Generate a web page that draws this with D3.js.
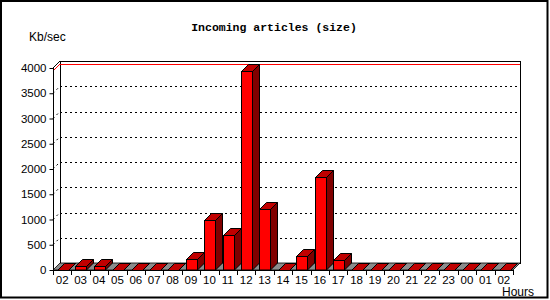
<!DOCTYPE html>
<html>
<head>
<meta charset="utf-8">
<script src="https://cdn.jsdelivr.net/npm/d3@7"></script>
<style>
  body { margin: 0; background: #fff; }
  svg { display: block; }
  .axis text { font: 11.5px "Liberation Sans", Arial, sans-serif; fill: #000; }
</style>
</head>
<body>
<div id="chart"></div>
<script>
// hours on the x axis
var hours = ["02", "03", "04", "05", "06", "07", "08", "09", "10", "11", "12", "13",
  "14", "15", "16", "17", "18", "19", "20", "21", "22", "23", "00", "01", "02b"];
var hourLabels = hours.map(function (h) { return h.slice(0, 2); });
// Kb/sec per hour
var sizes = [0, 70, 70, 0, 0, 0, 0, 215, 985, 695, 3940, 1200,
  0, 280, 1840, 200, 0, 0, 0, 0, 0, 0, 0, 0, 0];
var yTicks = [0, 500, 1000, 1500, 2000, 2500, 3000, 3500, 4000];

var width = 550, height = 300,
  plotLeft = 53, plotRight = 513, plotBottom = 270, plotTop = 68,
  depth = 7,
  front = '#ff0000', topFace = '#c00000', side = '#800000', floor = '#8c8c8c';

var svg = d3.select('#chart').append('svg')
  .attr('width', width)
  .attr('height', height);

var x = d3.scaleBand().domain(hours).range([plotLeft, plotRight]);
var y = d3.scaleLinear().domain([0, 4000]).range([plotBottom, plotTop]);
var bw = x.bandwidth();

// outer frame
svg.append('rect')
  .attr('x', 1).attr('y', 1)
  .attr('width', 546.5).attr('height', 296.5)
  .attr('fill', '#fff').attr('stroke', '#000').attr('stroke-width', 2);

// back wall
svg.append('rect')
  .attr('x', plotLeft + depth + 0.5).attr('y', plotTop - depth + 0.5)
  .attr('width', plotRight - plotLeft).attr('height', plotBottom - plotTop)
  .attr('fill', '#fff').attr('stroke', '#000');

// grid lines on back wall and side
yTicks.filter(function (d) { return d > 0 && d < 4000; }).forEach(function (d) {
  svg.append('line')
    .attr('x1', plotLeft + depth).attr('x2', plotRight + depth)
    .attr('y1', Math.round(y(d) - depth) + 0.5).attr('y2', Math.round(y(d) - depth) + 0.5)
    .attr('stroke', '#000').attr('stroke-dasharray', '2,3');
  svg.append('line')
    .attr('x1', plotLeft).attr('x2', plotLeft + depth)
    .attr('y1', y(d)).attr('y2', y(d) - depth)
    .attr('stroke', '#000').attr('stroke-dasharray', '2,3');
});

// peak line
var peak = d3.max(sizes);
svg.append('line')
  .attr('x1', plotLeft + depth).attr('x2', plotRight + depth)
  .attr('y1', Math.round(y(peak) - depth) + 0.5).attr('y2', Math.round(y(peak) - depth) + 0.5)
  .attr('stroke', '#ff0000');
svg.append('line')
  .attr('x1', plotLeft).attr('x2', plotLeft + depth)
  .attr('y1', y(peak)).attr('y2', y(peak) - depth)
  .attr('stroke', '#ff0000');

// floor
svg.append('polygon')
  .attr('points', [[plotLeft, plotBottom], [plotRight, plotBottom], [plotRight + depth, plotBottom - depth], [plotLeft + depth, plotBottom - depth]].join(' '))
  .attr('fill', floor).attr('stroke', '#000').attr('stroke-width', 0.8);

// side wall top edge
svg.append('line')
  .attr('x1', plotLeft).attr('y1', plotTop).attr('x2', plotLeft + depth).attr('y2', plotTop - depth)
  .attr('stroke', '#000');

// bars
var bars = svg.selectAll('.bar')
  .data(sizes)
  .enter().append('g')
  .attr('class', 'bar');

bars.each(function (d, i) {
  var g = d3.select(this);
  var x0 = Math.round(x(hours[i]) + 4) + 0.5, x1 = x0 + 11, yv = Math.round(y(d)) + 0.5;
  g.append('polygon')
    .attr('points', [[x1, plotBottom], [x1 + depth, plotBottom - depth], [x1 + depth, yv - depth], [x1, yv]].join(' '))
    .attr('fill', side).attr('stroke', '#000');
  g.append('polygon')
    .attr('points', [[x0, yv], [x1, yv], [x1 + depth, yv - depth], [x0 + depth, yv - depth]].join(' '))
    .attr('fill', topFace).attr('stroke', '#000');
  g.append('rect')
    .attr('x', x0).attr('y', yv)
    .attr('width', x1 - x0).attr('height', plotBottom - yv)
    .attr('fill', front).attr('stroke', '#000');
});

// y axis
svg.append('g')
  .attr('class', 'axis')
  .attr('transform', 'translate(' + (plotLeft + 0.5) + ',0)')
  .call(d3.axisLeft(y).tickValues(yTicks).tickFormat(d3.format('d')).tickSize(4).tickPadding(3).tickSizeOuter(0))
  .call(function (g) { g.select('.domain').attr('d', 'M0,' + plotTop + 'V' + plotBottom); });

// x axis
svg.append('g')
  .attr('class', 'axis')
  .attr('transform', 'translate(0,' + (plotBottom + 0.5) + ')')
  .call(d3.axisBottom(x).tickSize(0).tickPadding(5).tickFormat(function (d, i) { return hourLabels[i]; }))
  .call(function (g) { g.select('.domain').attr('d', 'M' + plotLeft + ',0H' + plotRight); });

// x boundary ticks
svg.append('g')
  .selectAll('line')
  .data(d3.range(hours.length + 1))
  .enter().append('line')
  .attr('x1', function (i) { return Math.round(plotLeft + i * bw) + 0.5; })
  .attr('x2', function (i) { return Math.round(plotLeft + i * bw) + 0.5; })
  .attr('y1', plotBottom).attr('y2', plotBottom + 5)
  .attr('stroke', '#000');

// titles
svg.append('text')
  .attr('x', 274).attr('y', 31)
  .attr('text-anchor', 'middle')
  .style('font', 'bold 11.5px "Liberation Mono", "Courier New", monospace')
  .text('Incoming articles (size)');

svg.append('text')
  .attr('x', 29).attr('y', 41)
  .style('font', '12px "Liberation Sans", Arial, sans-serif')
  .text('Kb/sec');

svg.append('text')
  .attr('x', 534).attr('y', 296)
  .attr('text-anchor', 'end')
  .style('font', '12px "Liberation Sans", Arial, sans-serif')
  .text('Hours');
</script>
</body>
</html>
